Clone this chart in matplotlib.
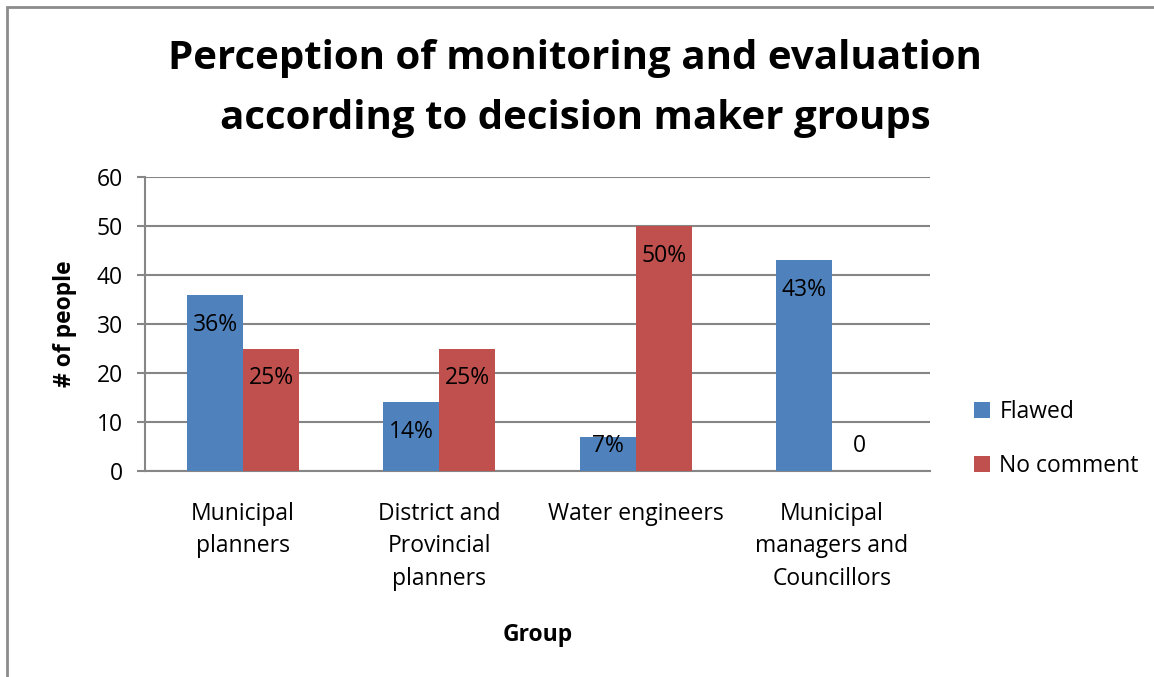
import matplotlib.pyplot as plt
import matplotlib.patches as patches
import numpy as np

groups = ['Municipal\nplanners', 'District and\nProvincial\nplanners',
          'Water engineers', 'Municipal\nmanagers and\nCouncillors']
flawed = [36, 14, 7, 43]
no_comment = [25, 25, 50, 0]
flawed_labels = ['36%', '14%', '7%', '43%']
no_comment_labels = ['25%', '25%', '50%', '0']

plt.rcParams['font.family'] = ['Open Sans', 'DejaVu Sans']
fs = 16.5

fig = plt.figure(figsize=(11.54, 6.77), dpi=100)
ax = fig.add_axes([145 / 1154, 1 - 471 / 677, 785 / 1154, 294 / 677])

# outer chart border
fig.patches.append(patches.Rectangle((7 / 1154, -0.05), 1.1, 1 - 7 / 677 + 0.05,
                                     transform=fig.transFigure, fill=False,
                                     edgecolor='#8c8c8c', linewidth=2))

x = np.arange(len(groups))
w = 0.285
ax.bar(x - w / 2, flawed, w, color='#4F81BD', label='Flawed', zorder=3)
ax.bar(x + w / 2, no_comment, w, color='#C0504D', label='No comment', zorder=3)

# data labels, inside end like Excel
for xi, v, lab in zip(x - w / 2, flawed, flawed_labels):
    off = -30 if v > 10 else -9
    ax.annotate(lab, (xi, v), xytext=(0, off), textcoords='offset pixels',
                ha='center', va='center', fontsize=fs, zorder=4)
for xi, v, lab in zip(x + w / 2, no_comment, no_comment_labels):
    off = -30 if v > 10 else 25
    ax.annotate(lab, (xi, v), xytext=(0, off), textcoords='offset pixels',
                ha='center', va='center', fontsize=fs, zorder=4)

ax.set_xlim(-0.5, 3.5)
ax.set_ylim(0, 60)
ax.set_yticks(range(0, 61, 10))
ax.set_xticks(x)
ax.set_xticklabels(groups, fontsize=fs, linespacing=1.48)
ax.tick_params(axis='x', length=0, pad=22)
ax.tick_params(axis='y', length=6, width=1.5, color='#868686', labelsize=fs, pad=10)
ax.grid(axis='y', color='#868686', linewidth=1.5, zorder=0)
for s in ['top', 'right']:
    ax.spines[s].set_visible(False)
for s in ['left', 'bottom']:
    ax.spines[s].set_color('#868686')
    ax.spines[s].set_linewidth(1.5)

ax.set_xlabel('Group', fontsize=fs, fontweight='bold', labelpad=23)
ax.set_ylabel('# of people', fontsize=fs, fontweight='bold', labelpad=14)

fig.text(575 / 1154, 1 - 88 / 677,
         'Perception of monitoring and evaluation\naccording to decision maker groups',
         ha='center', va='center', fontsize=29, fontweight='bold', linespacing=1.7)

ax.legend(loc='center left', bbox_to_anchor=(1.03, 0.108), frameon=False,
          fontsize=fs, handlelength=0.7, handleheight=0.7, labelspacing=1.3,
          handletextpad=0.4)

fig.savefig('out.png', dpi=100)
